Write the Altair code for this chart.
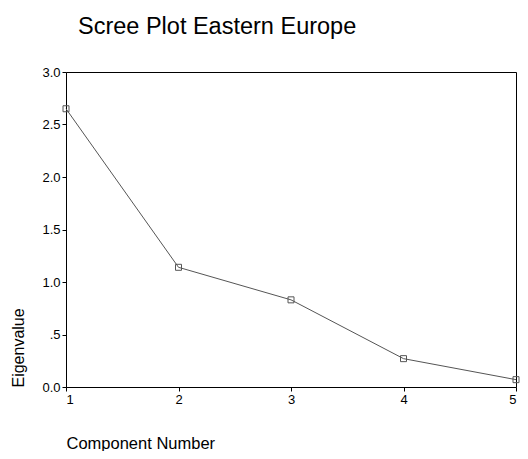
import altair as alt
import pandas as pd

components = [1, 2, 3, 4, 5]
eigenvalues = [2.65, 1.14, 0.83, 0.27, 0.07]

y_tick_values = [0.0, 0.5, 1.0, 1.5, 2.0, 2.5, 3.0]
y_tick_labels = ["0.0", ".5", "1.0", "1.5", "2.0", "2.5", "3.0"]
x_tick_values = [1, 2, 3, 4, 5]

df = pd.DataFrame({"component": components, "eigenvalue": eigenvalues})

label_expr = " : ".join(
    f"datum.value == {v} ? '{l}'" for v, l in zip(y_tick_values, y_tick_labels)
) + " : ''"

FONT = "Liberation Sans"
GRAY = "#555555"

x_scale = alt.Scale(domain=[1, 5], nice=False, zero=False)
y_scale = alt.Scale(domain=[0, 3], nice=False)

x_enc = alt.X(
    "component:Q",
    scale=x_scale,
    axis=alt.Axis(
        values=x_tick_values, format="d", title="Component Number",
        titleAnchor="start", titlePadding=29, titleFontSize=16.5,
        titleFontWeight="normal", titleFont=FONT, titleColor="black",
        labelFont=FONT, labelFontSize=13, labelColor="black",
        tickSize=4, tickColor="black", domainColor="black",
        grid=False, labelPadding=2,
    ),
)
y_enc = alt.Y(
    "eigenvalue:Q",
    scale=y_scale,
    axis=alt.Axis(
        values=y_tick_values, labelExpr=label_expr, title="Eigenvalue",
        titleAnchor="start", titlePadding=15, titleFontSize=16,
        titleFontWeight="normal", titleFont=FONT, titleColor="black",
        labelFont=FONT, labelFontSize=13, labelColor="black",
        tickSize=4, tickColor="black", domainColor="black",
        grid=False, labelPadding=2,
    ),
)

line = alt.Chart(df).mark_line(color=GRAY, strokeWidth=1).encode(x=x_enc, y=y_enc)
pts = alt.Chart(df).mark_point(
    shape="square", filled=False, size=36, color=GRAY, strokeWidth=1, opacity=1
).encode(
    x=alt.X("component:Q", scale=x_scale,
            axis=alt.Axis(orient="top", labels=False, ticks=False, title=None,
                          grid=False, domainColor="black")),
    y=alt.Y("eigenvalue:Q", scale=y_scale,
            axis=alt.Axis(orient="right", labels=False, ticks=False, title=None,
                          grid=False, domainColor="black")),
)

chart = (
    alt.layer(line, pts)
    .resolve_axis(x="independent", y="independent")
    .properties(
        width=450,
        height=315,
        autosize=alt.AutoSizeParams(type="none"),
        padding={"left": 58, "top": 64, "right": 4, "bottom": 64},
        title=alt.TitleParams(
            "Scree Plot Eastern Europe", anchor="start", frame="group",
            dx=12, offset=28, font=FONT, fontSize=23.5, fontWeight="normal",
            color="black",
        ),
    )
    .configure_view(stroke=None)
    .configure(background="white")
)

chart.save("out.html", embed_options={"renderer": "svg", "actions": False})
